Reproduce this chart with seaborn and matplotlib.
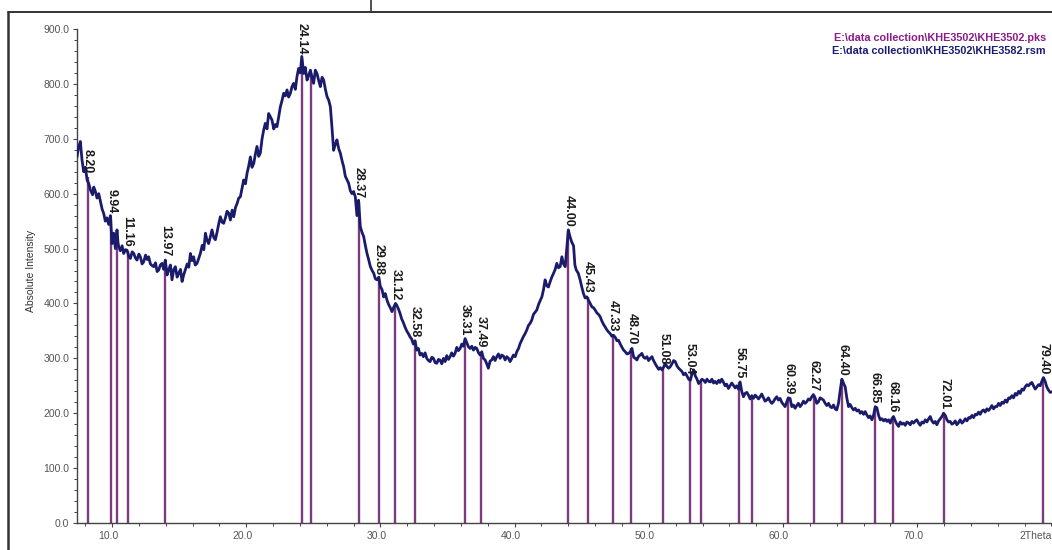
import matplotlib
matplotlib.use("Agg")
import matplotlib.pyplot as plt
import matplotlib.ticker as mticker
from matplotlib.lines import Line2D
from matplotlib.transforms import ScaledTranslation
import pandas as pd
import seaborn as sns

# Measured scan (2Theta in degrees, absolute intensity)
two_theta = [
    7.39, 7.50, 7.64, 7.76, 7.89, 8.02, 8.14, 8.27, 8.39, 8.55, 8.64, 8.76, 8.88, 9.01,
    9.14, 9.26, 9.38, 9.50, 9.62, 9.75, 9.88, 10.00, 10.06, 10.12, 10.25, 10.37, 10.44,
    10.50, 10.62, 10.75, 10.87, 11.00, 11.12, 11.25, 11.37, 11.50, 11.62, 11.74, 11.86,
    12.00, 12.11, 12.24, 12.36, 12.50, 12.62, 12.73, 12.86, 12.98, 13.11, 13.24, 13.36,
    13.48, 13.60, 13.73, 13.85, 13.97, 14.10, 14.22, 14.35, 14.47, 14.60, 14.72, 14.85,
    14.97, 15.10, 15.22, 15.34, 15.46, 15.60, 15.72, 15.84, 15.96, 16.08, 16.20, 16.33,
    16.46, 16.58, 16.72, 16.84, 16.96, 17.08, 17.20, 17.33, 17.45, 17.58, 17.70, 17.83,
    17.95, 18.07, 18.20, 18.32, 18.45, 18.57, 18.70, 18.82, 18.95, 19.07, 19.20, 19.32,
    19.44, 19.56, 19.69, 19.81, 19.94, 20.06, 20.18, 20.31, 20.43, 20.56, 20.68, 20.80,
    20.93, 21.05, 21.18, 21.30, 21.42, 21.55, 21.67, 21.80, 21.92, 22.05, 22.17, 22.29,
    22.42, 22.54, 22.67, 22.79, 22.91, 23.04, 23.16, 23.29, 23.41, 23.53, 23.66, 23.78,
    23.90, 24.03, 24.14, 24.28, 24.40, 24.53, 24.65, 24.78, 24.90, 25.02, 25.15, 25.27,
    25.40, 25.52, 25.65, 25.77, 25.90, 26.02, 26.15, 26.27, 26.39, 26.51, 26.64, 26.76,
    26.89, 27.01, 27.14, 27.26, 27.38, 27.51, 27.63, 27.76, 27.88, 28.00, 28.13, 28.25,
    28.37, 28.50, 28.62, 28.75, 28.88, 29.00, 29.12, 29.25, 29.38, 29.50, 29.62, 29.74,
    29.88, 29.99, 30.12, 30.24, 30.36, 30.49, 30.61, 30.74, 30.86, 30.97, 31.12, 31.21,
    31.34, 31.46, 31.58, 31.71, 31.83, 31.96, 32.08, 32.21, 32.33, 32.45, 32.58, 32.70,
    32.83, 32.95, 33.08, 33.20, 33.33, 33.45, 33.58, 33.70, 33.83, 33.95, 34.08, 34.20,
    34.32, 34.44, 34.57, 34.70, 34.82, 34.94, 35.07, 35.19, 35.31, 35.44, 35.56, 35.69,
    35.81, 35.94, 36.06, 36.18, 36.31, 36.44, 36.56, 36.68, 36.81, 36.93, 37.06, 37.18,
    37.31, 37.43, 37.55, 37.67, 37.80, 37.92, 38.04, 38.17, 38.29, 38.42, 38.54, 38.67,
    38.79, 38.92, 39.04, 39.17, 39.29, 39.41, 39.54, 39.66, 39.79, 39.91, 40.04, 40.16,
    40.29, 40.41, 40.54, 40.66, 40.78, 40.91, 41.03, 41.16, 41.28, 41.40, 41.53, 41.65,
    41.78, 41.90, 42.03, 42.15, 42.27, 42.40, 42.52, 42.65, 42.77, 42.90, 43.02, 43.14,
    43.27, 43.39, 43.52, 43.64, 43.77, 43.88, 44.00, 44.12, 44.25, 44.39, 44.49, 44.59,
    44.74, 44.88, 45.00, 45.13, 45.25, 45.38, 45.50, 45.63, 45.75, 45.88, 46.00, 46.12,
    46.25, 46.37, 46.50, 46.62, 46.75, 46.87, 47.00, 47.12, 47.25, 47.37, 47.50, 47.62,
    47.74, 47.87, 48.00, 48.12, 48.24, 48.37, 48.49, 48.62, 48.74, 48.87, 48.99, 49.11,
    49.24, 49.36, 49.48, 49.61, 49.73, 49.86, 49.98, 50.11, 50.23, 50.35, 50.48, 50.60,
    50.73, 50.85, 50.98, 51.10, 51.22, 51.35, 51.47, 51.60, 51.72, 51.85, 51.97, 52.10,
    52.22, 52.34, 52.47, 52.59, 52.72, 52.84, 52.97, 53.09, 53.22, 53.34, 53.46, 53.59,
    53.71, 53.84, 53.96, 54.08, 54.21, 54.33, 54.46, 54.58, 54.70, 54.82, 54.94, 55.06,
    55.20, 55.30, 55.43, 55.55, 55.68, 55.80, 55.93, 56.05, 56.18, 56.30, 56.43, 56.55,
    56.68, 56.80, 56.92, 57.05, 57.17, 57.30, 57.42, 57.55, 57.67, 57.79, 57.92, 58.04,
    58.17, 58.29, 58.41, 58.54, 58.66, 58.78, 58.91, 59.03, 59.16, 59.28, 59.40, 59.53,
    59.65, 59.78, 59.90, 60.03, 60.15, 60.27, 60.39, 60.52, 60.65, 60.77, 60.90, 61.02,
    61.14, 61.27, 61.39, 61.52, 61.64, 61.77, 61.89, 62.01, 62.14, 62.26, 62.39, 62.51,
    62.64, 62.76, 62.89, 63.01, 63.14, 63.26, 63.39, 63.51, 63.63, 63.76, 63.88, 64.00,
    64.13, 64.25, 64.38, 64.50, 64.63, 64.75, 64.88, 65.00, 65.13, 65.25, 65.38, 65.50,
    65.63, 65.75, 65.87, 66.00, 66.12, 66.24, 66.37, 66.49, 66.62, 66.74, 66.87, 66.99,
    67.12, 67.24, 67.37, 67.49, 67.62, 67.74, 67.86, 67.99, 68.11, 68.23, 68.36, 68.48,
    68.61, 68.73, 68.86, 68.98, 69.11, 69.23, 69.36, 69.48, 69.60, 69.73, 69.85, 69.97,
    70.10, 70.22, 70.35, 70.47, 70.60, 70.72, 70.85, 70.97, 71.09, 71.22, 71.34, 71.46,
    71.59, 71.71, 71.84, 71.96, 72.09, 72.21, 72.33, 72.46, 72.58, 72.71, 72.83, 72.95,
    73.08, 73.20, 73.33, 73.45, 73.58, 73.70, 73.83, 73.95, 74.07, 74.20, 74.32, 74.44,
    74.57, 74.69, 74.82, 74.94, 75.06, 75.19, 75.31, 75.44, 75.56, 75.69, 75.81, 75.93,
    76.06, 76.18, 76.31, 76.43, 76.56, 76.68, 76.81, 76.93, 77.05, 77.18, 77.30, 77.42,
    77.55, 77.67, 77.80, 77.92, 78.04, 78.17, 78.29, 78.42, 78.54, 78.66, 78.79, 78.91,
    79.04, 79.16, 79.28, 79.40, 79.53, 79.65, 79.78, 79.91, 80.04,
]
intensity = [
    667, 684, 695, 662, 640, 648, 625, 618, 607, 598, 612, 604, 592, 600,
    585, 572, 564, 550, 556, 544, 560, 509, 522, 528, 500, 534, 512,
    503, 496, 505, 491, 498, 497, 486, 482, 494, 491, 483, 479,
    490, 485, 472, 476, 488, 480, 485, 472, 469, 467, 474, 458,
    461, 470, 473, 462, 479, 452, 461, 470, 443, 462, 467, 448,
    455, 462, 440, 452, 461, 472, 466, 491, 478, 485, 470, 473,
    482, 491, 506, 498, 528, 515, 509, 522, 534, 520, 516, 530,
    545, 558, 548, 546, 556, 568, 564, 552, 570, 558, 575, 582,
    592, 594, 610, 625, 618, 637, 650, 667, 648, 655, 672, 686,
    668, 674, 700, 716, 728, 718, 746, 740, 734, 718, 726, 722,
    740, 758, 770, 783, 778, 789, 776, 783, 795, 801, 790, 813,
    828, 820, 850, 819, 830, 807, 815, 825, 812, 801, 825, 819,
    806, 795, 812, 807, 790, 777, 770, 758, 720, 679, 690, 698,
    682, 674, 660, 649, 632, 625, 619, 605, 600, 604, 594, 560,
    588, 540, 530, 522, 505, 491, 480, 467, 460, 455, 445, 443,
    448, 431, 425, 412, 418, 406, 398, 392, 385, 392, 400, 397,
    390, 382, 372, 365, 357, 350, 345, 339, 335, 326, 332, 315,
    318, 306, 309, 303, 310, 300, 296, 294, 302, 300, 292, 291,
    298, 297, 290, 300, 294, 305, 298, 303, 310, 304, 309, 320,
    314, 318, 326, 322, 336, 328, 321, 318, 322, 315, 320, 318,
    310, 306, 312, 300, 297, 290, 282, 295, 297, 303, 296, 303,
    308, 300, 306, 304, 297, 303, 300, 294, 300, 306, 303, 312,
    318, 327, 334, 340, 345, 352, 360, 364, 370, 380, 384, 388,
    398, 405, 412, 425, 443, 432, 430, 440, 448, 455, 462, 473,
    465, 467, 485, 472, 467, 500, 534, 522, 512, 505, 470, 461,
    455, 443, 430, 418, 410, 412, 406, 400, 394, 392, 388, 383,
    380, 376, 368, 362, 357, 352, 348, 345, 340, 342, 338, 332,
    333, 326, 320, 315, 312, 308, 309, 312, 318, 302, 300, 297,
    304, 306, 309, 302, 300, 303, 296, 300, 303, 296, 290, 285,
    280, 283, 279, 284, 291, 285, 282, 285, 290, 296, 294, 286,
    282, 279, 276, 270, 273, 268, 262, 260, 272, 279, 268, 262,
    254, 258, 262, 260, 256, 262, 258, 257, 262, 255, 258, 254,
    260, 256, 262, 257, 250, 253, 245, 250, 255, 251, 246, 250,
    244, 257, 240, 230, 236, 238, 233, 226, 232, 227, 233, 230,
    226, 230, 235, 228, 222, 224, 228, 222, 218, 221, 226, 230,
    224, 227, 220, 216, 212, 220, 228, 227, 212, 215, 209, 214,
    218, 212, 216, 222, 218, 221, 226, 224, 230, 234, 228, 218,
    221, 228, 226, 224, 218, 214, 218, 212, 210, 215, 208, 206,
    218, 240, 262, 255, 248, 228, 212, 216, 210, 206, 209, 204,
    206, 200, 203, 198, 203, 197, 192, 195, 188, 196, 212, 210,
    196, 188, 190, 186, 189, 185, 188, 182, 190, 194, 186, 180,
    176, 184, 180, 182, 178, 184, 182, 179, 185, 182, 186, 188,
    182, 178, 184, 182, 188, 184, 190, 194, 186, 182, 185, 179,
    186, 190, 194, 200, 196, 188, 184, 185, 180, 182, 186, 179,
    183, 188, 182, 185, 190, 186, 192, 191, 196, 192, 198, 197,
    202, 198, 204, 206, 202, 208, 205, 209, 214, 208, 212, 212,
    218, 214, 220, 218, 224, 220, 228, 227, 232, 228, 236, 233,
    240, 236, 244, 242, 248, 252, 250, 254, 256, 250, 244, 248,
    252, 250, 258, 265, 258, 248, 242, 238, 239,
]

# Identified peaks: position, stick height, label ("" = unlabelled stick)
peak_positions = [8.20, 9.94, 10.37, 11.16, 13.97, 24.14, 24.81, 28.37, 29.88, 31.12,
                  32.58, 36.31, 37.49, 44.00, 45.43, 47.33, 48.70, 51.08, 53.04, 53.89,
                  56.75, 57.67, 60.39, 62.27, 64.40, 66.85, 68.16, 72.01, 79.40]
peak_heights = [630, 556, 530, 495, 478, 845, 820, 585, 445, 398,
                330, 334, 312, 532, 412, 342, 318, 282, 262, 258,
                256, 232, 227, 233, 260, 210, 194, 199, 264]
peak_labels = ["8.20", "9.94", "", "11.16", "13.97", "24.14", "", "28.37", "29.88", "31.12",
               "32.58", "36.31", "37.49", "44.00", "45.43", "47.33", "48.70", "51.08", "53.04", "",
               "56.75", "", "60.39", "62.27", "64.40", "66.85", "68.16", "72.01", "79.40"]

file_names = [r"E:\data collection\KHE3502\KHE3502.pks",
              r"E:\data collection\KHE3502\KHE3582.rsm"]
file_colors = ["#8a1c88", "#1c1c70"]

sns.set_style("white")
plt.rcParams["font.family"] = ["Liberation Sans", "DejaVu Sans"]

W, H = 1052, 550
fig = plt.figure(figsize=(W / 100, H / 100), dpi=100)
ax = fig.add_axes([77 / W, 27 / H, (W - 77) / W, 494 / H])

scan = pd.DataFrame({"two_theta": two_theta, "intensity": intensity})

ax.vlines(peak_positions, 0, peak_heights, colors="#7d3a7e", linewidth=1.7, zorder=2)
sns.lineplot(data=scan, x="two_theta", y="intensity", sort=False, estimator=None,
             color="#1b1b6c", linewidth=2.0, ax=ax, zorder=3)

for pos, h, lab in zip(peak_positions, peak_heights, peak_labels):
    if lab:
        ax.annotate(lab, (pos, h), xytext=(0, 3), textcoords="offset points",
                    rotation=270, ha="center", va="bottom", fontsize=9,
                    fontweight="bold", color="#1a1a1a", annotation_clip=False, zorder=4)

ax.set_xlim(7.39, 80.04)
ax.set_ylim(0, 900)

ax.xaxis.set_major_locator(mticker.FixedLocator([10, 20, 30, 40, 50, 60, 70]))
ax.xaxis.set_minor_locator(mticker.MultipleLocator(2))
ax.xaxis.set_major_formatter(mticker.FormatStrFormatter("%.1f"))
ax.yaxis.set_major_locator(mticker.MultipleLocator(100))
ax.yaxis.set_minor_locator(mticker.MultipleLocator(20))
ax.yaxis.set_major_formatter(mticker.FormatStrFormatter("%.1f"))

ax.tick_params(which="major", direction="out", length=3, width=0.8, color="#444444",
               labelcolor="#555555", labelsize=7.5, pad=2.5)
ax.tick_params(which="minor", direction="out", length=2, width=0.7, color="#444444")
ax.tick_params(axis="x", which="both", bottom=True)
ax.tick_params(axis="y", which="both", left=True)

# x tick labels sit slightly left of their ticks
shift = ScaledTranslation(-4 / 100, 0, fig.dpi_scale_trans)
for lbl in ax.get_xticklabels():
    lbl.set_transform(lbl.get_transform() + shift)

for side in ("top", "right"):
    ax.spines[side].set_visible(False)
for side in ("left", "bottom"):
    ax.spines[side].set_color("#444444")
    ax.spines[side].set_linewidth(1.0)

ax.set_xlabel("")
ax.set_ylabel("Absolute Intensity", fontsize=7.5, color="#333333")
ax.yaxis.set_label_coords(-0.042, 0.51)
ax.text(1.0, -0.016, "2Theta", transform=ax.transAxes, ha="right", va="top",
        fontsize=7.5, color="#555555")

for i, (name, col) in enumerate(zip(file_names, file_colors)):
    fig.text(1046 / W, 1 - (38 + 13 * i) / H, name, ha="right", va="center",
             fontsize=7.8, fontweight="bold", color=col)

# window frame around the plot area
fig.add_artist(Line2D([8 / W, 8 / W], [0, 1 - 12 / H], transform=fig.transFigure,
                      color="#333333", linewidth=1.8))
fig.add_artist(Line2D([8 / W, 1], [1 - 12 / H, 1 - 12 / H], transform=fig.transFigure,
                      color="#333333", linewidth=1.4))
fig.add_artist(Line2D([371 / W, 371 / W], [1 - 12 / H, 1], transform=fig.transFigure,
                      color="#333333", linewidth=1.2))

fig.savefig("out.png", dpi=100)
